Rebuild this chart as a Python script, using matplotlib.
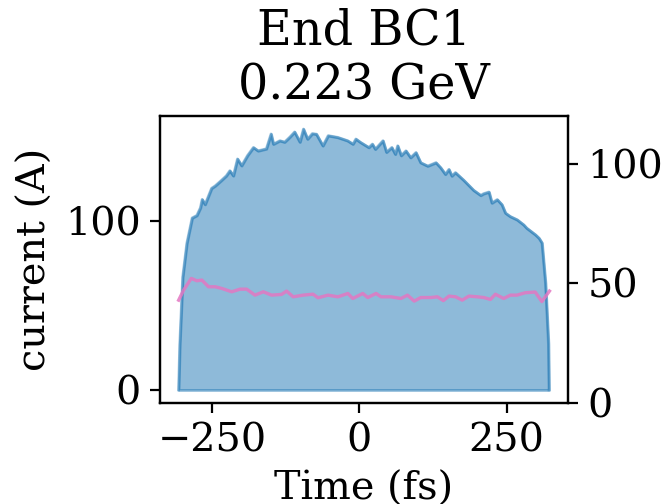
import matplotlib
matplotlib.use("Agg")
import matplotlib.pyplot as plt

plt.rcParams['font.family'] = ['DejaVu Serif']
plt.rcParams['font.size'] = 14.3

# current profile (left axis)
t_cur = [-307, -305, -300, -293, -284, -276, -270, -267, -262, -251, -245, -234, -226, -220,
         -214, -207, -200, -190, -180, -172, -158, -150, -146, -135, -127, -118, -110, -101,
         -95, -88, -80, -73, -62, -53, -37, -20, -11, -6, 2, 16, 22, 27, 40, 46, 55, 61, 65,
         71, 79, 87, 96, 104, 116, 130, 138, 146, 152, 157, 163, 177, 194, 206, 211, 220,
         225, 234, 242, 248, 256, 268, 279, 284, 299, 305, 310, 316, 321, 322]
current = [0, 27, 67, 87, 102, 103.5, 108, 113, 110, 119.6, 121, 124.4, 127, 130,
           127, 137, 133, 139, 143.8, 141.8, 143, 151.8, 145.8, 147.8, 147, 150, 153, 147,
           154.7, 148.8, 152, 151.7, 144.8, 150.8, 149.8, 147.8, 145.8, 148.8, 146.8, 143.8,
           145.8, 142.8, 147.8, 141, 143.8, 139.8, 144.8, 139, 141.8, 137.8, 140.8, 134.8,
           132.8, 134.8, 131.8, 127.9, 130.8, 126.9, 128.9, 124.4, 118.4, 115.4, 116.4,
           117.4, 110.9, 112.9, 109.9, 104.9, 102.9, 100.9, 97.9, 96, 92, 90, 87.2, 63.3,
           27.5, 0]

# second quantity (right axis)
t_r = [-306.8, -298.4, -285.4, -275.8, -267.4, -256.1, -244.9, -233.6, -216.7, -202.6,
       -191.3, -177.2, -163.1, -149.0, -132.1, -123.6, -112.4, -95.5, -78.6, -70.2, -53.3,
       -36.4, -19.5, -11.1, 5.8, 14.3, 28.4, 36.8, 53.7, 70.6, 81.8, 93.1, 104.4, 121.3,
       132.5, 142.6, 152.2, 163.4, 174.7, 186.0, 200.0, 211.3, 222.6, 231.0, 245.1, 256.4,
       267.6, 281.7, 298.6, 309.9, 322.8]
right_vals = [43, 47.2, 52.1, 51.1, 51.4, 48.6, 48.6, 47.9, 46.5, 47.6, 47.6, 45.1, 46.5,
              45.1, 45.4, 46.8, 44.4, 45.1, 45.5, 44.0, 45.1, 44.4, 45.8, 43.7, 45.8, 44.1,
              45.8, 44.4, 44.4, 43.7, 45.1, 42.6, 44.1, 44.1, 44.4, 42.8, 44.7, 44.4, 43.0,
              44.7, 44.4, 44.1, 43.3, 45.5, 43.7, 45.1, 45.1, 46.1, 46.4, 42.4, 46.8]

title = "End BC1\n0.223 GeV"
left_ticks = [0, 100]
right_ticks = [0, 50, 100]
x_ticks = [-250, 0, 250]

fig = plt.figure(figsize=(3.33, 2.52), dpi=200)
ax = fig.add_axes([160/666, 1-403/504, (568-160)/666, (403-116)/504])
ax.fill_between(t_cur, current, color='tab:blue', alpha=0.5)
ax.plot(t_cur, current, color='tab:blue', alpha=0.4, lw=1)
ax.set_yticks(left_ticks)
ax.set_xticks(x_ticks)
ax.set_ylabel("current (A)")
ax.set_xlabel("Time (fs)")
ax.set_title(title)

ax2 = ax.twinx()
ax2.plot(t_r, right_vals, color='tab:pink', alpha=0.85, lw=1.2)
ax2.set_ylim(0, 120)
ax2.set_yticks(right_ticks)

fig.savefig("out.png", dpi=200)
